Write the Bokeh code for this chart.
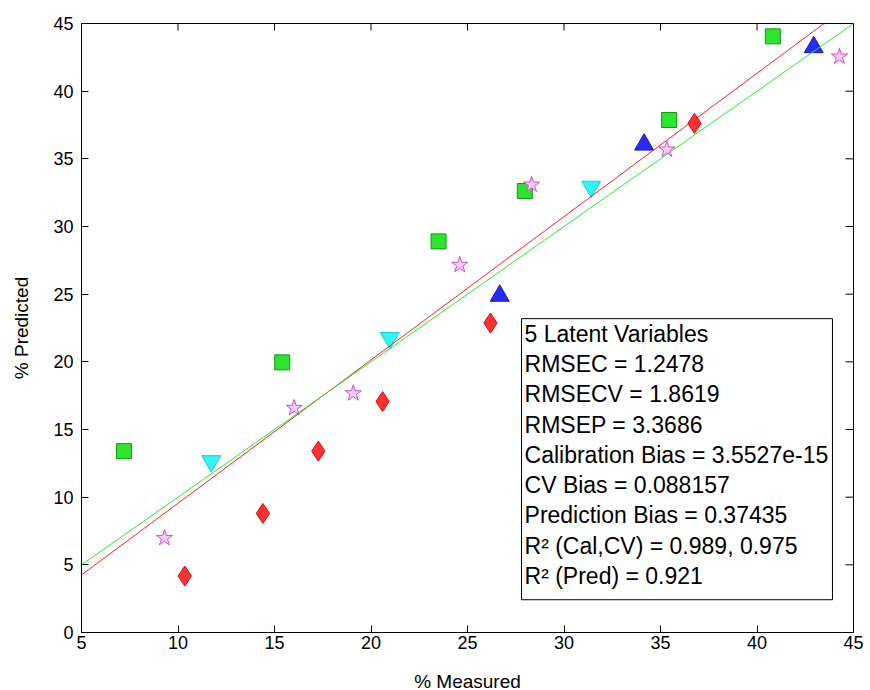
import math
from bokeh.plotting import figure
from bokeh.models import Range1d, Label, Slope, FixedTicker, BoxAnnotation
from bokeh.embed import file_html
from bokeh.resources import INLINE

# ---- data ----
sq_x = [7.2, 15.4, 23.5, 27.97, 35.45, 40.82]
sq_y = [13.4, 19.96, 28.9, 32.62, 37.87, 44.05]

tri_x = [26.67, 34.15, 42.94]
tri_y = [24.88, 36.05, 43.25]

itri_x = [11.72, 20.97, 31.41]
itri_y = [12.66, 21.76, 32.94]

dia_x = [10.35, 14.4, 17.27, 20.6, 26.19, 36.76]
dia_y = [4.17, 8.8, 13.4, 17.07, 22.87, 37.62]

star_x = [9.3, 16.02, 19.08, 24.6, 28.32, 35.33, 44.27]
star_y = [6.98, 16.59, 17.67, 27.16, 33.09, 35.68, 42.55]

fit_slope = 1.059
fit_intercept = -1.04
ideal_slope = 1.0
ideal_intercept = 0.0

x_min, x_max = 5, 45
y_min, y_max = 0, 45
x_ticks = [5, 10, 15, 20, 25, 30, 35, 40, 45]
y_ticks = [0, 5, 10, 15, 20, 25, 30, 35, 40, 45]

stats_lines = [
    "5 Latent Variables",
    "RMSEC = 1.2478",
    "RMSECV = 1.8619",
    "RMSEP = 3.3686",
    "Calibration Bias = 3.5527e-15",
    "CV Bias = 0.088157",
    "Prediction Bias = 0.37435",
    "R\u00b2 (Cal,CV) = 0.989, 0.975",
    "R\u00b2 (Pred) = 0.921",
]

FONT = "Liberation Sans"

p = figure(frame_width=772, frame_height=609,
           x_range=Range1d(x_min, x_max), y_range=Range1d(y_min, y_max),
           output_backend="svg", toolbar_location=None,
           min_border_left=81, min_border_right=17,
           min_border_top=23, min_border_bottom=58,
           background_fill_color="white", border_fill_color="white")
p.xgrid.visible = False
p.ygrid.visible = False
p.outline_line_color = "black"
p.outline_line_width = 1

for ax in (p.xaxis[0], p.yaxis[0]):
    ax.major_tick_in = 7
    ax.major_tick_out = 0
    ax.minor_tick_line_color = None
    ax.axis_line_color = "black"
    ax.major_tick_line_color = "black"
    ax.major_label_text_font = FONT
    ax.major_label_text_font_size = "18px"
    ax.major_label_text_color = "black"
    ax.axis_label_text_font = FONT
    ax.axis_label_text_font_size = "19px"
    ax.axis_label_text_font_style = "normal"
    ax.axis_label_text_color = "black"

p.xaxis.ticker = FixedTicker(ticks=x_ticks)
p.yaxis.ticker = FixedTicker(ticks=y_ticks)
p.xaxis.axis_label = "% Measured"
p.yaxis.axis_label = "% Predicted"
p.xaxis.major_label_standoff = 3
p.yaxis.major_label_standoff = 8
p.xaxis.axis_label_standoff = 19
p.yaxis.axis_label_standoff = 18

# inward tick marks on the top and right edges of the box (clipped to frame)
p.scatter(x_ticks, [y_max] * len(x_ticks), marker="dash", size=14,
          angle=math.pi / 2, line_color="black", line_width=1)
p.scatter([x_max] * len(y_ticks), y_ticks, marker="dash", size=16,
          line_color="black", line_width=1)

p.add_layout(Slope(gradient=fit_slope, y_intercept=fit_intercept,
                   line_color="#ff2020", line_width=1))
p.add_layout(Slope(gradient=ideal_slope, y_intercept=ideal_intercept,
                   line_color="#22ee22", line_width=1))

p.scatter(sq_x, sq_y, marker="square", size=15,
          fill_color="#2ee52e", line_color="#119911", line_width=1)
p.scatter(tri_x, tri_y, marker="triangle", size=19,
          fill_color="#2a2af2", line_color="#1a1acc", line_width=1)
p.scatter(itri_x, itri_y, marker="inverted_triangle", size=19,
          fill_color="#30f5f5", line_color="#20cccc", line_width=1)
p.scatter(dia_x, dia_y, marker="diamond", size=20,
          fill_color="#ff3030", line_color="#cc1010", line_width=1)
p.scatter(star_x, star_y, marker="star", size=17,
          fill_color="#f7caf7", line_color="#d050d0", line_width=1)

# statistics box
p.add_layout(BoxAnnotation(left=27.8, right=43.91, top=23.19, bottom=2.42,
                           fill_color="white", fill_alpha=1.0,
                           line_color="black", line_width=1, line_alpha=1.0))
p.add_layout(Label(x=27.8, y=23.19, x_offset=3, y_offset=-2,
                   text="\n".join(stats_lines),
                   anchor="top_left", text_font=FONT, text_font_size="23px",
                   text_line_height=1.165, text_color="black"))

open("out.html", "w").write(file_html(p, INLINE))
